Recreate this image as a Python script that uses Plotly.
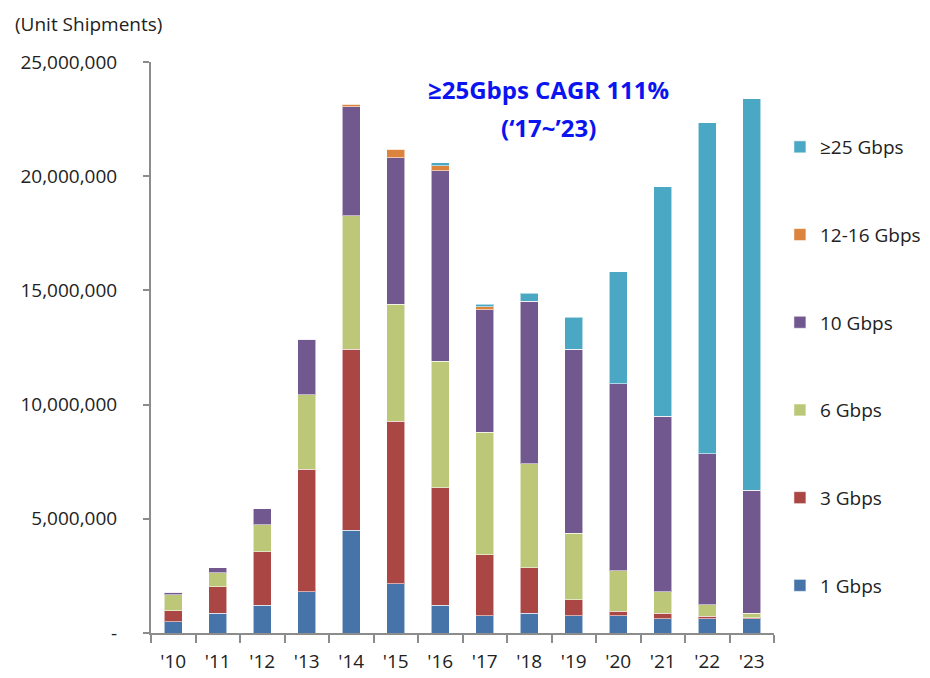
import plotly.graph_objects as go

years = ["'10", "'11", "'12", "'13", "'14", "'15", "'16", "'17", "'18", "'19", "'20", "'21", "'22", "'23"]

# values in millions of units
g1 = [0.50, 0.86, 1.21, 1.81, 4.50, 2.16, 1.21, 0.76, 0.86, 0.76, 0.76, 0.63, 0.63, 0.63]
g3 = [0.47, 1.17, 2.35, 5.36, 7.93, 7.11, 5.15, 2.67, 2.00, 0.70, 0.20, 0.23, 0.11, 0.03]
g6 = [0.70, 0.60, 1.17, 3.26, 5.83, 5.13, 5.54, 5.37, 4.55, 2.90, 1.77, 0.94, 0.49, 0.21]
g10 = [0.12, 0.22, 0.70, 2.44, 4.78, 6.41, 8.34, 5.36, 7.11, 8.06, 8.19, 7.70, 6.62, 5.37]
g12 = [0, 0, 0, 0, 0.12, 0.37, 0.22, 0.13, 0, 0, 0, 0, 0, 0]
g25 = [0, 0, 0, 0, 0, 0, 0.13, 0.11, 0.35, 1.40, 4.89, 10.04, 14.49, 17.16]

series_names = ["1 Gbps", "3 Gbps", "6 Gbps", "10 Gbps", "12-16 Gbps", "≥25 Gbps"]
series_vals = [g1, g3, g6, g10, g12, g25]
colors = ["#4674A9", "#AA4644", "#BCC878", "#71598F", "#DC843E", "#4AA8C4"]

ytick_vals = [0, 5e6, 10e6, 15e6, 20e6, 25e6]
ytick_text = ["-", "5,000,000", "10,000,000", "15,000,000", "20,000,000", "25,000,000"]

font_family = "Open Sans, Noto Sans, sans-serif"

fig = go.Figure()
n = len(series_names)
for i, (name, vals, col) in enumerate(zip(series_names, series_vals, colors)):
    fig.add_trace(go.Bar(
        x=years, y=[v * 1e6 for v in vals], name=name, legendgroup=name,
        legendrank=n - i,
        marker=dict(color=col, line=dict(color="rgba(255,255,255,0.55)", width=1)),
    ))

L, R, T, B = 139, 161, 54, 53
PW, PH = 930 - L - R, 678 - T - B

def px_x(x):
    return (x - 8 - L) / PW

def px_y(y):
    return (678 - B - (y - 8)) / PH

fig.update_layout(
    width=930, height=678,
    barmode="stack", bargap=0.59,
    plot_bgcolor="white", paper_bgcolor="white",
    margin=dict(l=L, r=R, t=T, b=B),
    font=dict(family=font_family, size=18, color="#222222"),
    showlegend=True,
    legend=dict(
        traceorder="grouped", tracegroupgap=60,
        x=px_x(783), xanchor="left", y=px_y(128), yanchor="top",
        font=dict(size=19, color="#222222"),
        itemwidth=30,
    ),
    xaxis=dict(
        showline=True, linecolor="#8C8C8C", linewidth=2,
        ticks="outside", tickson="boundaries", ticklen=8, tickwidth=2, tickcolor="#8C8C8C",
        tickfont=dict(size=19), showgrid=False, ticklabelstandoff=10,
    ),
    yaxis=dict(
        range=[0, 25e6], showline=True, linecolor="#8C8C8C", linewidth=2,
        ticks="outside", ticklen=6, tickwidth=2, tickcolor="#8C8C8C",
        tickvals=ytick_vals, ticktext=ytick_text, tickfont=dict(size=19),
        showgrid=False, zeroline=False, ticklabelstandoff=22,
    ),
    annotations=[
        dict(text="(Unit Shipments)", xref="paper", yref="paper", x=px_x(8), y=px_y(10),
             xanchor="left", yanchor="top", showarrow=False, borderpad=0,
             font=dict(size=19, color="#222222")),
        dict(text="<b>≥25Gbps CAGR 111%</b>", xref="paper", yref="paper",
             x=px_x(549), y=px_y(90), xanchor="center", yanchor="middle",
             showarrow=False, font=dict(size=24, color="#0A14F0")),
        dict(text="<b>(‘17~’23)</b>", xref="paper", yref="paper",
             x=px_x(549), y=px_y(128), xanchor="center", yanchor="middle",
             showarrow=False, font=dict(size=24, color="#0A14F0")),
    ],
)

fig.write_html("out.html")
